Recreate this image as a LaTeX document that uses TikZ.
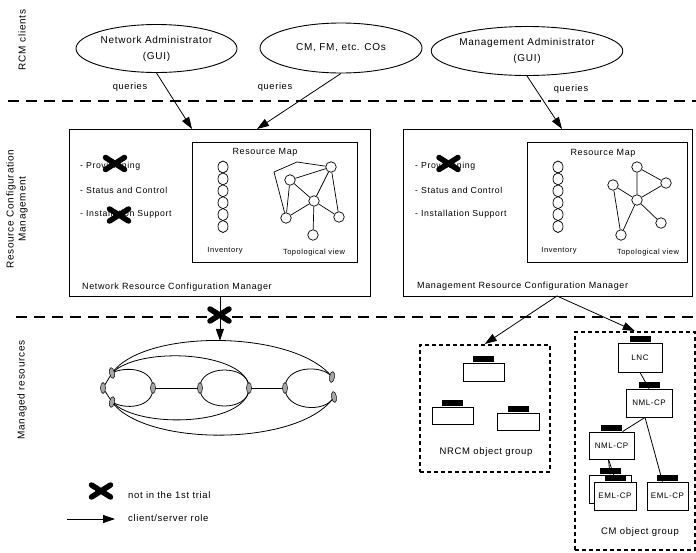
\documentclass[tikz,border=0pt]{standalone}
\usepackage{fontspec}
\setmainfont{Liberation Sans}[LetterSpace=7]
\usetikzlibrary{arrows.meta,shapes.geometric}
\pgfdeclarelayer{bg}
\pgfsetlayers{bg,main}
\begin{document}
\begin{tikzpicture}[x=1pt,y=-1pt,
 every node/.style={font=\fontsize{9}{11}\selectfont, inner sep=0pt},
 cl/.style={ellipse, draw, line width=0.9pt, align=center, font=\fontsize{10}{16}\selectfont},
 mgr/.style={draw, line width=0.8pt, anchor=north west},
 arr/.style={-{Triangle[length=12pt,width=8pt]}, line width=0.8pt},
 sep/.style={line width=2.2pt, dash pattern=on 11pt off 7pt},
 grp/.style={draw, line width=1.5pt, dash pattern=on 4pt off 3pt, anchor=north west},
 rc/.style={circle, draw, line width=0.7pt, minimum size=10.5pt, fill=white},
 inv/.style={ellipse, draw, line width=0.7pt, minimum width=10pt, minimum height=12pt},
 port/.style={ellipse, draw, line width=0.5pt, fill=gray!70, minimum width=5pt, minimum height=11pt},
 item/.style={anchor=west, font=\fontsize{8.7}{10}\selectfont},
 small/.style={font=\fontsize{7.5}{9}\selectfont},
 obj/.style={draw, line width=0.8pt, fill=white, font=\fontsize{8}{10}\selectfont,
   label={[fill=black, minimum width=21pt, minimum height=6.5pt, inner sep=0pt, label distance=0pt]north:{}}},
 side/.style={rotate=90, align=center, font=\fontsize{10}{12}\selectfont},
 bigx/.pic={\draw[line width=5.5pt, line cap=round] (-9.5,-6)--(9.5,6) (-9.5,6)--(9.5,-6);},
]
\useasboundingbox (0,0) rectangle (696,552);

% side labels
\node[side] (lab1) at (22,40) {RCM clients};
\node[side] (lab2) at (17,209) {Resource Configuration\\Management};
\node[side] (lab3) at (22,390) {Managed resources};

% separators
\coordinate (s1a) at (8,101); \coordinate (s1b) at (696,101);
\coordinate (s2a) at (16,317); \coordinate (s2b) at (696,317);
\draw[sep] (s1a) -- (s1b);
\draw[sep] (s2a) -- (s2b);

% clients
\node[cl, minimum width=161pt, minimum height=48pt] (e1) at (156.5,48.5) {Network Administrator\\(GUI)};
\node[cl, minimum width=162pt, minimum height=50pt] (e2) at (341,48) {CM, FM, etc. COs};
\node[cl, minimum width=160pt, minimum height=49pt] (e3) at (527,51) {Management Administrator\\(GUI)};

% managers
\node[mgr, minimum width=301pt, minimum height=167pt] (nrcm) at (69,129) {};
\node[mgr, minimum width=289pt, minimum height=167pt] (mrcm) at (403,129) {};
\node[mgr, minimum width=165pt, minimum height=120pt] (map1) at (192,142) {};
\node[mgr, minimum width=160pt, minimum height=120pt] (map2) at (527,142) {};

% queries arrows
\coordinate (t1) at (192,129);
\coordinate (t2) at (257,129);
\coordinate (t3) at (562,129);
\draw[arr] (e1.south) -- (t1);
\draw[arr] (e2.south) -- (t2);
\draw[arr] (e3.south) -- (t3);
\node[font=\fontsize{9.3}{11}\selectfont] (q1) at (130,87) {queries};
\node[font=\fontsize{9.3}{11}\selectfont] (q2) at (275,87) {queries};
\node[font=\fontsize{9.3}{11}\selectfont] (q3) at (571,89) {queries};

% left manager contents
\node[item] (l1) at (80,166) {- Provisioning};
\node[item] (l2) at (80,190) {- Status and Control};
\node[item] (l3) at (80,214) {- Installation Support};
\pic at (115,163.5) {bigx};
\pic at (119,215) {bigx};
\node[anchor=west] (nl) at (82,287) {Network Resource Configuration Manager};
\node (rm1) at (265,152) {Resource Map};
\foreach \i in {0,...,5} \node[inv] (ia\i) at (223,167+11.9*\i) {};
\node[small] (iv1) at (225,251) {Inventory};
\node[small] (tv1) at (314,253) {Topological view};
\node[rc] (A) at (290,180) {};
\node[rc] (B) at (331,167) {};
\node[rc] (C) at (314,201) {};
\node[rc] (D) at (286,218) {};
\node[rc] (E) at (339,217) {};
\node[rc] (F) at (313,235) {};
\draw[line width=0.7pt] (A)--(B) (A)--(C) (A)--(D) (B)--(C) (B)--(E) (C)--(D) (C)--(E) (C)--(F);
\draw[line width=0.7pt] (D) -- (274,172) -- (297,162) -- (B);

% right manager contents
\node[item] (r1) at (415,166) {- Provisioning};
\node[item] (r2) at (415,190) {- Status and Control};
\node[item] (r3) at (415,214) {- Installation Support};
\pic at (448.5,163.5) {bigx};
\node[anchor=west] (ml) at (417,286) {Management Resource Configuration Manager};
\node (rm2) at (603,153) {Resource Map};
\foreach \i in {0,...,5} \node[inv] (ib\i) at (558,167+11.9*\i) {};
\node[small] (iv2) at (559,251) {Inventory};
\node[small] (tv2) at (648,253) {Topological view};
\node[rc] (P) at (637,167) {};
\node[rc] (Q) at (666,183) {};
\node[rc] (R) at (613,185) {};
\node[rc] (S) at (637,200) {};
\node[rc] (T) at (661,223) {};
\node[rc] (U) at (621,235) {};
\draw[line width=0.7pt] (P)--(Q) (P)--(S) (Q)--(S) (R)--(S) (R)--(U) (S)--(U) (S)--(T);

% managed network ring
\node[port] (L0) at (103,388) {};
\node[port, rotate=12] (L1) at (112,373) {};
\node[port, rotate=-12] (L2) at (112,402) {};
\node[port] (M1) at (153,388) {};
\node[port] (M2) at (200,388) {};
\node[port] (M3) at (249,388) {};
\node[port] (M4) at (285,388) {};
\node[port, rotate=-10] (R1) at (332,377) {};
\node[port, rotate=10] (R2) at (334,397) {};
\begin{pgfonlayer}{bg}
\draw[line width=0.8pt] (L1.center) .. controls (145,328) and (295,330) .. (R1.center);
\draw[line width=0.8pt] (L2.center) .. controls (145,447) and (300,447) .. (R2.center);
\draw[line width=0.8pt] (L1.center) .. controls (140,345) and (248,352) .. (M3.center);
\draw[line width=0.8pt] (L2.center) .. controls (140,430) and (248,425) .. (M3.center);
\draw[line width=0.8pt] (L1.center) .. controls (125,366) and (153,368) .. (M1.center);
\draw[line width=0.8pt] (L2.center) .. controls (125,410) and (153,408) .. (M1.center);
\draw[line width=0.8pt] (M2.center) .. controls (199,364) and (250,364) .. (M3.center);
\draw[line width=0.8pt] (M2.center) .. controls (199,412) and (250,412) .. (M3.center);
\draw[line width=0.8pt] (M4.center) .. controls (285,366) and (322,364) .. (R1.center);
\draw[line width=0.8pt] (M4.center) .. controls (285,410) and (325,414) .. (R2.center);
\draw[line width=0.8pt] (M1.center) -- (M2.center) (M3.center) -- (M4.center);
\draw[line width=0.8pt] (L0.center) -- (L1.center) (L0.center) -- (L2.center);
\end{pgfonlayer}
\draw[arr] (nrcm.south) -- ++(0,44);
\pic at (219.5,315) {bigx};

% object groups
\node[grp, minimum width=130pt, minimum height=127pt] (nrcmg) at (419,344) {};
\node[grp, minimum width=120pt, minimum height=218pt] (cmg) at (574,331) {};
\coordinate (m0) at (557,296);
\draw[arr] (m0) -- (nrcmg.north);
\draw[arr] (m0) -- (cmg.north);

\node[obj, minimum width=41pt, minimum height=18pt] (o1) at (483.5,372) {};
\node[obj, minimum width=41pt, minimum height=17pt] (o2) at (452.5,415.5) {};
\node[obj, minimum width=42pt, minimum height=17pt] (o3) at (518,421.5) {};
\node[font=\fontsize{9.5}{11}\selectfont] (ng) at (486,452) {NRCM object group};

\node[obj, minimum width=44pt, minimum height=29pt] (lnc) at (640,357.5) {LNC};
\node[obj, minimum width=46pt, minimum height=28pt] (nml1) at (649,403) {NML-CP};
\node[obj, minimum width=45pt, minimum height=27pt] (nml2) at (611.5,445.5) {NML-CP};
\node[obj, minimum width=42pt, minimum height=28pt] (emlB) at (610,489) {};
\node[obj, minimum width=42pt, minimum height=28pt] (emlF) at (615,496) {EML-CP};
\node[obj, minimum width=41pt, minimum height=28pt] (eml3) at (667.5,496) {EML-CP};
\node[font=\fontsize{9.5}{11}\selectfont] (cg) at (640,532) {CM object group};
\begin{pgfonlayer}{bg}
\draw[line width=0.8pt] (lnc.south) -- (nml1.north);
\draw[line width=0.8pt] ([xshift=-4pt]nml1.south) -- ([xshift=11pt]nml2.north);
\draw[line width=0.8pt] ([xshift=-4pt]nml1.south) -- ([xshift=-5pt]eml3.north);
\draw[line width=0.8pt] ([xshift=-3pt]nml2.south) -- (emlB.north);
\draw[line width=0.8pt] ([xshift=-3pt]nml2.south) -- ([xshift=1pt]emlF.north);
\end{pgfonlayer}

% legend
\pic at (101,491) {bigx};
\node[anchor=west, font=\fontsize{9.5}{11}\selectfont] (lg1) at (128,495) {not in the 1st trial};
\coordinate (la) at (67,519); \coordinate (lb) at (115,519);
\draw[arr] (la) -- (lb);
\node[anchor=west, font=\fontsize{9.5}{11}\selectfont] (lg2) at (128,518) {client/server role};
\end{tikzpicture}
\end{document}
